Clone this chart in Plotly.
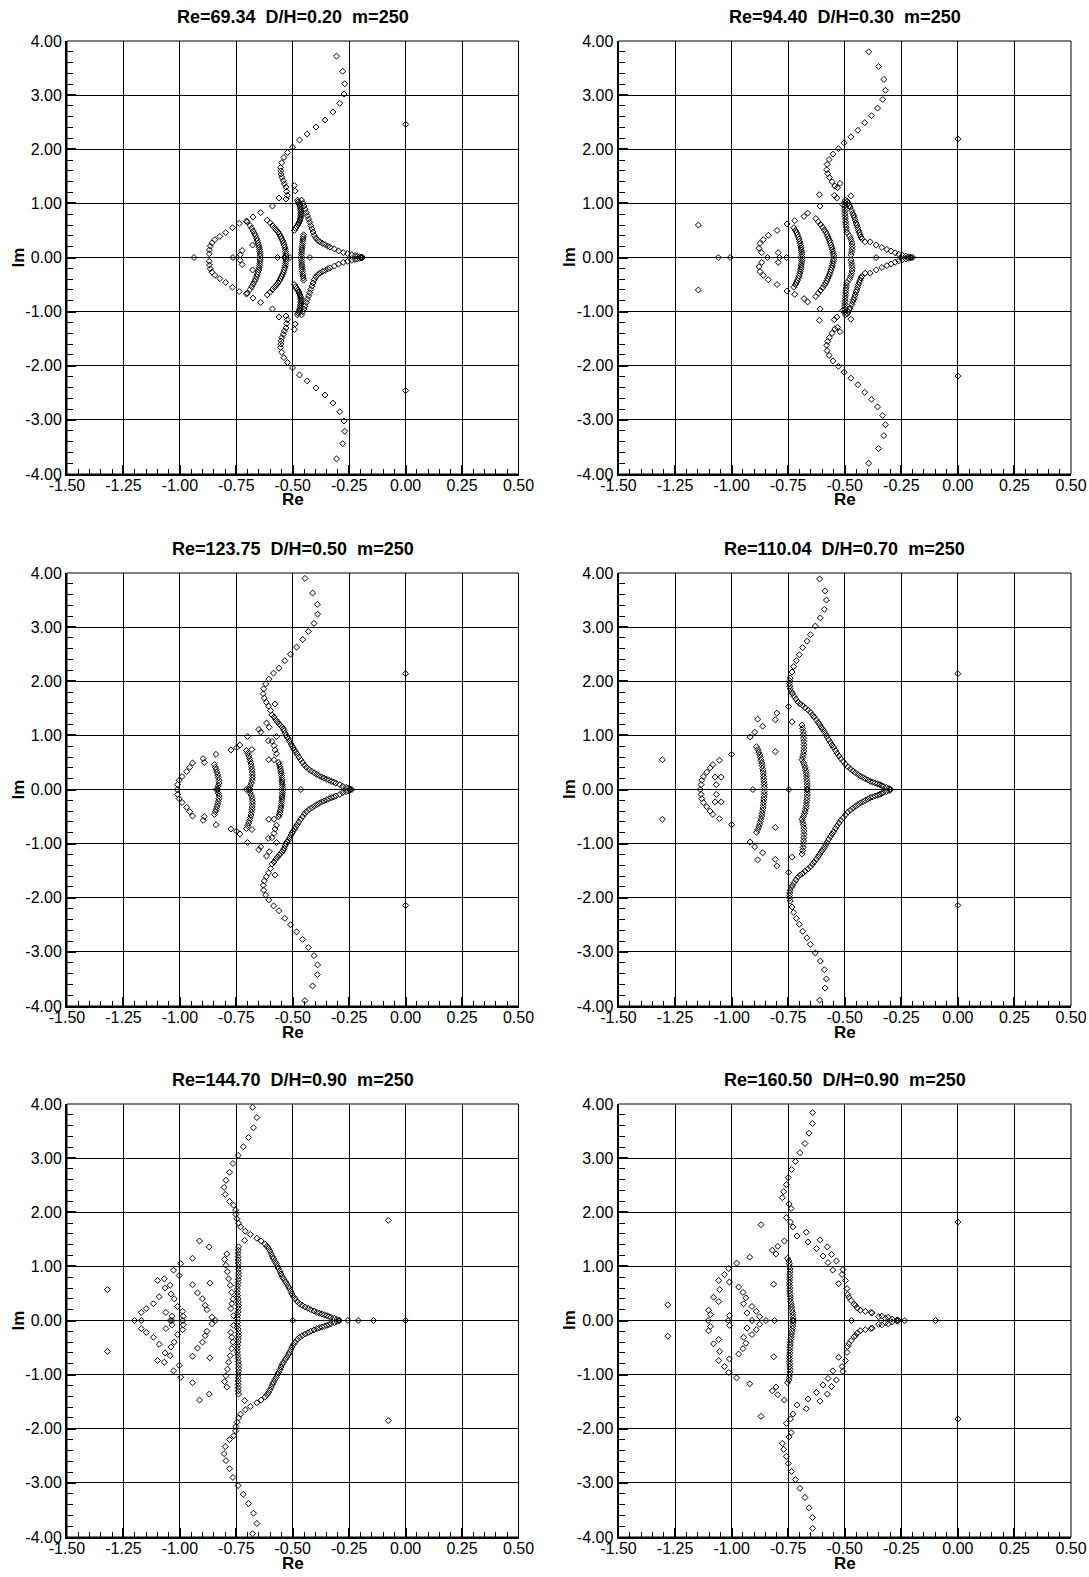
import plotly.graph_objects as go

W, H = 1089, 1577

titles = ["Re=69.34  D/H=0.20  m=250", "Re=94.40  D/H=0.30  m=250",
          "Re=123.75  D/H=0.50  m=250", "Re=110.04  D/H=0.70  m=250",
          "Re=144.70  D/H=0.90  m=250", "Re=160.50  D/H=0.90  m=250"]

x_ticks = [-1.5, -1.25, -1.0, -0.75, -0.5, -0.25, 0.0, 0.25, 0.5]
x_ticklabels = ["-1.50", "-1.25", "-1.00", "-0.75", "-0.50", "-0.25", "0.00", "0.25", "0.50"]
y_ticks = [-4, -3, -2, -1, 0, 1, 2, 3, 4]
y_ticklabels = ["-4.00", "-3.00", "-2.00", "-1.00", "0.00", "1.00", "2.00", "3.00", "4.00"]

# Eigenvalues with Im >= 0 (spectra are symmetric: conjugate pairs)
p1_re = [
    -0.306, -0.279, -0.270, -0.273, -0.292, -0.322, -0.357, -0.397, -0.436, -0.470, -0.501, -0.523,
    -0.539, -0.549, -0.554, -0.553, -0.552, -0.548, -0.542, -0.537, -0.530, -0.527, -0.524, -0.530,
    -0.493, -0.489, -0.561, -0.590,
    -0.642, -0.676, -0.706, -0.737, -0.767, -0.797, -0.823, -0.845, -0.858, -0.865, -0.869, -0.870,
    -0.9375, -0.765, -0.567, -0.537, -0.512, -0.424, -0.191,
    -0.733, -0.724, -0.678,
    -0.701, -0.689, -0.682, -0.675, -0.669, -0.665, -0.660, -0.657, -0.654, -0.651, -0.649, -0.647, -0.646, -0.645, -0.644,
    -0.613, -0.600, -0.590, -0.581, -0.573, -0.565, -0.559, -0.554, -0.549, -0.545, -0.541, -0.538, -0.535, -0.533, -0.532, -0.531, -0.530,
    -0.479, -0.476, -0.473, -0.470, -0.468, -0.466, -0.465, -0.464, -0.464, -0.464, -0.465, -0.466, -0.468, -0.471, -0.474, -0.478, -0.483, -0.488, -0.493,
    -0.452, -0.453, -0.455, -0.456, -0.457, -0.458, -0.459, -0.460, -0.461, -0.461, -0.462,
    -0.461, -0.455, -0.450, -0.445, -0.440, -0.435, -0.430, -0.425, -0.420, -0.415, -0.410, -0.405, -0.398,
    -0.390, -0.380, -0.368, -0.357, -0.345, -0.335, -0.316, -0.297, -0.276, -0.257, -0.239, -0.224, -0.214, -0.205, -0.198, -0.193,
    0.0,
]
p1_im = [
    3.72, 3.44, 3.21, 3.02, 2.85, 2.69, 2.54, 2.41, 2.28, 2.17, 2.04, 1.94,
    1.85, 1.75, 1.66, 1.60, 1.54, 1.48, 1.42, 1.36, 1.30, 1.22, 1.15, 1.08,
    1.33, 1.23, 1.10, 0.95,
    0.83, 0.75, 0.67, 0.63, 0.55, 0.46, 0.39, 0.33, 0.27, 0.21, 0.14, 0.07,
    0, 0, 0, 0, 0, 0, 0,
    0.05, 0.13, 0.23,
    0.66, 0.59, 0.54, 0.49, 0.44, 0.40, 0.35, 0.31, 0.27, 0.23, 0.19, 0.15, 0.11, 0.07, 0.03,
    0.69, 0.64, 0.59, 0.55, 0.51, 0.47, 0.43, 0.39, 0.35, 0.31, 0.27, 0.23, 0.19, 0.15, 0.11, 0.07, 0.03,
    1.06, 1.03, 1.00, 0.97, 0.94, 0.90, 0.87, 0.84, 0.81, 0.78, 0.75, 0.72, 0.69, 0.66, 0.63, 0.60, 0.57, 0.54, 0.50,
    0.42, 0.38, 0.34, 0.30, 0.26, 0.22, 0.18, 0.14, 0.10, 0.06, 0.02,
    1.06, 1.00, 0.95, 0.89, 0.83, 0.77, 0.71, 0.65, 0.59, 0.53, 0.47, 0.41, 0.36,
    0.32, 0.29, 0.26, 0.24, 0.21, 0.19, 0.16, 0.12, 0.09, 0.07, 0.05, 0.035, 0.025, 0.015, 0.008, 0.003,
    2.46,
]

p2_re = [
    -1.147, -1.059, -1.006, 0.0,
    -0.394, -0.351, -0.327, -0.320, -0.332, -0.355, -0.382, -0.412, -0.442, -0.473,
    -0.503, -0.528, -0.552, -0.569, -0.578, -0.580, -0.575, -0.568, -0.556, -0.544,
    -0.532, -0.521, -0.546, -0.535, -0.509, -0.473, -0.612, -0.609,
    -0.664, -0.680, -0.721, -0.755, -0.799, -0.838, -0.860, -0.875, -0.879, -0.867, -0.842,
    -0.794, -0.789, -0.757, -0.361,
    -0.725, -0.718, -0.713, -0.709, -0.705, -0.702, -0.699, -0.697, -0.695, -0.693, -0.692, -0.691, -0.690, -0.690,
    -0.628, -0.617, -0.607, -0.598, -0.590, -0.584, -0.579, -0.575, -0.571, -0.567, -0.564, -0.561, -0.558, -0.555, -0.553, -0.551, -0.549,
    -0.497, -0.499, -0.500, -0.500, -0.500, -0.499, -0.498, -0.497, -0.496, -0.495, -0.494, -0.492, -0.490,
    -0.479, -0.474, -0.470, -0.468, -0.467, -0.468, -0.470, -0.472,
    -0.489, -0.484, -0.480, -0.476, -0.469, -0.465, -0.461, -0.458, -0.454, -0.450, -0.447, -0.443, -0.440, -0.436, -0.432, -0.428, -0.425, -0.410,
    -0.388, -0.361, -0.336, -0.314, -0.296, -0.277, -0.261, -0.245, -0.230, -0.218, -0.208, -0.199,
]
p2_im = [
    0.60, 0, 0, 2.19,
    3.80, 3.53, 3.29, 3.09, 2.92, 2.76, 2.62, 2.49, 2.35, 2.23,
    2.12, 2.01, 1.91, 1.81, 1.72, 1.62, 1.55, 1.48, 1.40, 1.32,
    1.29, 1.37, 1.15, 1.10, 0.98, 1.14, 1.16, 0.95,
    0.82, 0.76, 0.68, 0.62, 0.50, 0.41, 0.33, 0.26, 0.17, 0.09, 0.0,
    0.09, 0, 0, 0,
    0.55, 0.50, 0.46, 0.42, 0.38, 0.34, 0.30, 0.26, 0.22, 0.18, 0.14, 0.10, 0.06, 0.02,
    0.72, 0.66, 0.61, 0.56, 0.51, 0.47, 0.43, 0.39, 0.35, 0.31, 0.27, 0.23, 0.19, 0.15, 0.11, 0.07, 0.03,
    1.06, 1.01, 0.96, 0.91, 0.86, 0.81, 0.76, 0.71, 0.66, 0.61, 0.56, 0.51, 0.46,
    0.40, 0.35, 0.30, 0.25, 0.20, 0.15, 0.10, 0.05,
    1.04, 1.00, 0.96, 0.93, 0.87, 0.82, 0.78, 0.74, 0.69, 0.64, 0.60, 0.55, 0.50, 0.46, 0.42, 0.38, 0.35, 0.29,
    0.29, 0.23, 0.185, 0.15, 0.12, 0.086, 0.06, 0.04, 0.025, 0.012, 0.006, 0,
]

p3_re = [
    -0.446, -0.412, -0.391, -0.390, -0.406, -0.431, -0.456, -0.483, -0.510, -0.535, -0.561,
    -0.585, -0.606, -0.620, -0.629, -0.631, -0.626, -0.617, -0.607, -0.598, -0.592, -0.583,
    -0.575, -0.560, -0.547, -0.538, -0.530, -0.520, -0.507, -0.498, -0.487, -0.473, -0.456, -0.439,
    -0.417, -0.394, -0.372, -0.350, -0.328, -0.309, -0.291, -0.279, -0.264, -0.254, -0.247, -0.238,
    -0.568, -0.553, -0.542, -0.534, -0.525, -0.514, -0.503, -0.492, -0.480, -0.465, -0.448, -0.428,
    -0.405, -0.383, -0.361, -0.339, -0.318,
    -0.579, -0.616, -0.604, -0.572, -0.592, -0.583, -0.578, -0.572, -0.606, -0.583, -0.608, -0.650,
    -0.642, -0.700, -0.734, -0.749, -0.774, -0.681,
    -0.562, -0.559, -0.557, -0.555, -0.553, -0.551, -0.550, -0.549, -0.548, -0.547, -0.546, -0.546, -0.545,
    -0.464, -0.706, -0.833, -1.012, -0.690,
    -0.705, -0.700, -0.695, -0.691, -0.688, -0.685, -0.683, -0.681, -0.680, -0.679, -0.679, -0.680, -0.683, -0.688, -0.692,
    -0.840, -0.897, -0.892, -0.944, -0.956, -0.970, -0.990, -1.003, -1.010,
    -0.847, -0.843, -0.840, -0.836, -0.833, -0.830, -0.827, -0.826, -0.830, -0.835,
    0.0,
]
p3_im = [
    3.90, 3.63, 3.42, 3.24, 3.07, 2.92, 2.77, 2.63, 2.50, 2.38, 2.24,
    2.15, 2.04, 1.95, 1.86, 1.77, 1.69, 1.61, 1.54, 1.46, 1.38, 1.34,
    1.29, 1.21, 1.15, 1.09, 1.00, 0.94, 0.84, 0.77, 0.69, 0.60, 0.50, 0.41,
    0.34, 0.28, 0.23, 0.19, 0.15, 0.12, 0.09, 0.06, 0.04, 0.025, 0.012, 0,
    1.25, 1.18, 1.12, 1.04, 0.97, 0.89, 0.80, 0.73, 0.65, 0.55, 0.45, 0.37,
    0.31, 0.255, 0.21, 0.17, 0.135,
    1.58, 1.23, 1.15, 0.98, 0.89, 0.81, 0.73, 0.66, 0.55, 0.55, 0.90, 1.11,
    1.06, 0.98, 0.82, 0.77, 0.73, 0.74,
    0.50, 0.46, 0.42, 0.38, 0.34, 0.30, 0.26, 0.22, 0.18, 0.14, 0.10, 0.06, 0.02,
    0, 0, 0, 0, 0,
    0.72, 0.67, 0.62, 0.57, 0.52, 0.47, 0.42, 0.37, 0.32, 0.27, 0.22, 0.17, 0.12, 0.07, 0.02,
    0.65, 0.57, 0.50, 0.49, 0.41, 0.33, 0.24, 0.17, 0.09,
    0.46, 0.41, 0.37, 0.32, 0.27, 0.22, 0.17, 0.12, 0.07, 0.02,
    2.14,
]

p4_re = [
    -1.306, 0.0,
    -0.611, -0.587, -0.581, -0.590, -0.608, -0.630, -0.652, -0.667, -0.686, -0.701,
    -0.714, -0.726, -0.733, -0.741, -0.744, -0.741, -0.731, -0.716, -0.697, -0.675,
    -0.652, -0.635, -0.618, -0.604, -0.590, -0.579, -0.564, -0.549, -0.534, -0.517,
    -0.497, -0.475, -0.453, -0.431, -0.409, -0.387, -0.365, -0.345, -0.331, -0.317,
    -0.305, -0.298,
    -0.743, -0.743, -0.737, -0.724, -0.707, -0.686, -0.663, -0.643, -0.626, -0.611,
    -0.597, -0.584, -0.571, -0.556, -0.541, -0.525, -0.507, -0.486, -0.464, -0.442,
    -0.420, -0.398, -0.376, -0.355, -0.338,
    -0.689, -0.686, -0.684, -0.683, -0.682, -0.681, -0.680, -0.680, -0.681, -0.683,
    -0.686, -0.689, -0.683, -0.678, -0.675, -0.672, -0.670, -0.669, -0.668, -0.667,
    -0.666, -0.666, -0.666,
    -0.747, -0.906, -1.139,
    -0.890, -0.884, -0.880, -0.876, -0.873, -0.870, -0.867, -0.865, -0.863, -0.861,
    -0.860, -0.859, -0.858, -0.857, -0.856, -0.856,
    -0.885, -0.863, -0.898, -0.918, -0.807, -0.800, -0.807, -0.748, -0.733, -1.000,
    -1.132, -1.125, -1.110, -1.095, -1.083, -1.054, -1.073, -1.046, -1.068, -1.135,
]
p4_im = [
    0.55, 2.14,
    3.89, 3.67, 3.50, 3.33, 3.17, 3.02, 2.86, 2.74, 2.62, 2.49,
    2.38, 2.27, 2.17, 2.06, 1.96, 1.86, 1.77, 1.67, 1.58, 1.51,
    1.43, 1.34, 1.24, 1.15, 1.07, 0.98, 0.87, 0.78, 0.67, 0.57,
    0.47, 0.38, 0.31, 0.25, 0.20, 0.15, 0.12, 0.09, 0.06, 0.04,
    0.02, 0.006,
    2.01, 1.91, 1.81, 1.72, 1.62, 1.55, 1.47, 1.38, 1.29, 1.20,
    1.11, 1.02, 0.92, 0.82, 0.72, 0.62, 0.52, 0.42, 0.345, 0.28,
    0.225, 0.175, 0.135, 0.105, 0.075,
    1.19, 1.13, 1.07, 1.01, 0.95, 0.89, 0.83, 0.77, 0.71, 0.65,
    0.60, 0.55, 0.50, 0.45, 0.40, 0.35, 0.30, 0.25, 0.20, 0.15,
    0.10, 0.05, 0.01,
    0, 0, 0,
    0.79, 0.74, 0.69, 0.64, 0.59, 0.54, 0.49, 0.44, 0.39, 0.34,
    0.29, 0.24, 0.19, 0.14, 0.09, 0.04,
    1.30, 1.17, 1.06, 0.97, 1.29, 1.41, 0.70, 1.53, 1.25, 0.65,
    0.17, 0.24, 0.32, 0.40, 0.46, 0.54, 0.23, 0.23, 0.09, 0.09,
]

p5_re = [
    -1.321, -0.077,
    0.0, -0.142, -0.210, -0.256, -0.500, -0.843, -0.987, -1.035, -1.043, -1.171, -1.201,
    -0.678, -0.659, -0.674, -0.696, -0.719, -0.742, -0.765, -0.780, -0.796, -0.804,
    -0.799, -0.780, -0.762, -0.753, -0.752, -0.747, -0.740, -0.731, -0.710, -0.688,
    -0.659, -0.640, -0.622, -0.607, -0.595, -0.585, -0.573, -0.563, -0.552, -0.541,
    -0.526, -0.514, -0.504, -0.489, -0.470, -0.445, -0.420, -0.393, -0.371, -0.349,
    -0.331, -0.316, -0.304, -0.295,
    -0.614, -0.601, -0.590, -0.579, -0.568, -0.557, -0.547, -0.533, -0.520, -0.509,
    -0.497, -0.480, -0.458, -0.432, -0.406, -0.382, -0.360, -0.340,
    -0.713,
    -0.740, -0.741, -0.742, -0.742, -0.742, -0.741, -0.741, -0.740, -0.740, -0.740,
    -0.741, -0.742, -0.744, -0.745, -0.745, -0.744, -0.742, -0.741, -0.740, -0.740,
    -0.742, -0.744, -0.745,
    -0.792, -0.802, -0.796, -0.789, -0.784, -0.777, -0.770, -0.765, -0.770, -0.774, -0.762,
    -0.944, -0.922, -0.900, -0.888, -0.858, -0.867, -0.913, -0.870, -0.944, -0.880,
    -0.996, -1.028, -1.003, -1.043, -1.065, -1.069, -1.099, -1.092, -1.117, -1.149,
    -1.171, -1.062, -1.040, -1.025, -1.010, -0.988,
    -1.035, -0.985,
]
p5_im = [
    0.57, 1.85,
    0, 0, 0, 0, 0, 0, 0, 0, 0, 0, 0,
    3.94, 3.75, 3.56, 3.38, 3.21, 3.05, 2.90, 2.74, 2.59, 2.46,
    2.33, 2.20, 2.13, 2.04, 1.96, 1.88, 1.80, 1.73, 1.65, 1.59,
    1.52, 1.47, 1.41, 1.33, 1.23, 1.14, 1.05, 0.96, 0.86, 0.77,
    0.68, 0.59, 0.49, 0.40, 0.31, 0.25, 0.20, 0.15, 0.12, 0.09,
    0.06, 0.04, 0.02, 0.006,
    1.37, 1.28, 1.18, 1.09, 1.00, 0.91, 0.81, 0.72, 0.63, 0.54,
    0.44, 0.35, 0.28, 0.225, 0.175, 0.135, 0.105, 0.075,
    1.48,
    1.36, 1.30, 1.24, 1.18, 1.12, 1.06, 1.00, 0.94, 0.88, 0.82,
    0.76, 0.70, 0.64, 0.58, 0.52, 0.46, 0.40, 0.34, 0.28, 0.22,
    0.16, 0.10, 0.04,
    1.23, 1.13, 1.02, 0.90, 0.77, 0.65, 0.52, 0.40, 0.31, 0.22, 0.09,
    0.66, 0.51, 0.40, 0.28, 0.06, 0.69, 1.47, 1.36, 1.15, 0.20,
    1.05, 0.93, 0.83, 0.65, 0.60, 0.77, 0.74, 0.44, 0.31, 0.22,
    0.15, 0.15, 0.49, 0.40, 0.26, 0.17,
    0.08, 0.08,
]

p6_re = [
    -1.282, 0.0,
    -0.099, -0.235, -0.264, -0.470, -0.811, -0.848, -0.910, -1.016, -1.104,
    -0.642, -0.643, -0.658, -0.676, -0.698, -0.718, -0.735, -0.750, -0.758, -0.770,
    -0.776, -0.746, -0.737, -0.758, -0.740, -0.729, -0.711, -0.767,
    -0.670, -0.662, -0.609, -0.625, -0.596, -0.577, -0.558, -0.574, -0.537, -0.553,
    -0.512, -0.527, -0.497, -0.490, -0.482, -0.453, -0.409, -0.379, -0.350, -0.320,
    -0.291, -0.268,
    -0.508, -0.487, -0.472, -0.459, -0.444, -0.431, -0.384, -0.336, -0.308,
    -0.753, -0.747, -0.745, -0.743, -0.742, -0.742, -0.743, -0.743, -0.744, -0.744,
    -0.744, -0.743, -0.743, -0.742, -0.741, -0.740, -0.739, -0.737, -0.735, -0.733,
    -0.731, -0.730, -0.728, -0.728,
    -0.814, -0.870, -0.920, -0.978, -0.820, -0.804, -0.796,
    -1.013, -1.032, -1.057, -1.053, -1.080, -1.102, -1.094, -1.057, -1.010, -1.009,
    -0.969, -0.950, -0.937, -0.947, -0.910, -0.891, -0.876, -0.932,
]
p6_im = [
    0.29, 1.82,
    0, 0, 0, 0, 0, 0, 0, 0, 0,
    3.84, 3.64, 3.46, 3.27, 3.10, 2.94, 2.79, 2.64, 2.51, 2.38,
    2.27, 2.15, 2.07, 1.90, 1.82, 1.73, 1.56, 1.47,
    1.63, 1.45, 1.49, 1.33, 1.19, 1.36, 1.22, 1.07, 1.10, 0.93,
    0.85, 0.68, 0.74, 0.59, 0.43, 0.28, 0.17, 0.14, 0.07, 0.04,
    0.025, 0.012,
    0.94, 0.48, 0.37, 0.30, 0.23, 0.19, 0.15, 0.08, 0.06,
    1.15, 1.10, 1.05, 1.00, 0.95, 0.90, 0.85, 0.80, 0.75, 0.70,
    0.65, 0.60, 0.55, 0.50, 0.45, 0.40, 0.35, 0.30, 0.25, 0.20,
    0.15, 0.10, 0.05, 0.01,
    0.67, 1.77, 1.17, 1.06, 1.30, 1.23, 1.37,
    0.96, 0.85, 0.74, 0.57, 0.43, 0.19, 0.11, 0.35, 0.71, 0.09,
    0.62, 0.52, 0.42, 0.31, 0.26, 0.17, 0.07, 0.14,
]

panels = [(p1_re, p1_im), (p2_re, p2_im), (p3_re, p3_im),
          (p4_re, p4_im), (p5_re, p5_im), (p6_re, p6_im)]

# layout geometry (pixels)
col_px = [(67, 518.5), (618.5, 1071)]
row_px = [(41, 474), (573, 1006), (1104, 1537)]

FONT = "Liberation Sans, Arial, Helvetica, sans-serif"
fig = go.Figure()
annotations = []
shapes = []

for k, (re_u, im_u) in enumerate(panels):
    if len(re_u) != len(im_u):
        print("length mismatch panel", k + 1, len(re_u), len(im_u))
    r, c = divmod(k, 2)
    n = "" if k == 0 else str(k + 1)
    xs = list(re_u) + [x for x, y in zip(re_u, im_u) if y != 0]
    ys = list(im_u) + [-y for y in im_u if y != 0]
    fig.add_trace(go.Scatter(
        x=xs, y=ys, mode="markers", xaxis="x" + n, yaxis="y" + n, showlegend=False,
        hoverinfo="skip",
        marker=dict(symbol="diamond-open", size=4.6, color="black",
                    line=dict(width=1, color="black"))))
    x0, x1 = col_px[c]
    yt, yb = row_px[r]
    common = dict(showline=True, linewidth=2, linecolor="black", mirror=False,
                  showgrid=True, gridcolor="black", gridwidth=1, zeroline=False,
                  ticks="inside", ticklen=9, tickwidth=2, tickcolor="black",
                  tickfont=dict(family=FONT, size=16, color="black"),
                  tickmode="array", fixedrange=True, automargin=False)
    fig.layout["xaxis" + n] = dict(
        common, domain=[x0 / W, x1 / W], anchor="y" + n, range=[-1.5, 0.5],
        tickvals=x_ticks, ticktext=x_ticklabels, ticklabelstandoff=-4,
        minor=dict(tickmode="linear", tick0=0, dtick=0.05, ticks="inside", ticklen=5,
                   tickwidth=1, tickcolor="black", showgrid=False))
    fig.layout["yaxis" + n] = dict(
        common, domain=[1 - yb / H, 1 - yt / H], anchor="x" + n, range=[-4, 4],
        tickvals=y_ticks, ticktext=y_ticklabels,
        minor=dict(tickmode="linear", tick0=0, dtick=0.2, ticks="inside", ticklen=6,
                   tickwidth=1, tickcolor="black", showgrid=False))
    shapes.append(dict(type="rect", xref="x" + n + " domain", yref="y" + n + " domain",
                       x0=0, x1=1, y0=0, y1=1, line=dict(color="black", width=1),
                       layer="below"))
    cx = (x0 + x1) / 2
    annotations.append(dict(
        text="<b>" + titles[k].replace("  ", " \u00a0") + "</b>", x=cx / W, y=1 - (yt - 24) / H,
        xref="paper", yref="paper", showarrow=False, xanchor="center", yanchor="middle",
        font=dict(family=FONT, size=18, color="black")))
    annotations.append(dict(
        text="<b>Re</b>", x=cx / W, y=1 - (yb + 26) / H, xref="paper", yref="paper",
        showarrow=False, xanchor="center", yanchor="middle",
        font=dict(family=FONT, size=17, color="black")))
    annotations.append(dict(
        text="<b>Im</b>", x=(x0 - 49) / W, y=1 - ((yt + yb) / 2) / H, xref="paper", yref="paper",
        showarrow=False, xanchor="center", yanchor="middle", textangle=-90,
        font=dict(family=FONT, size=17, color="black")))

fig.update_layout(width=W, height=H, autosize=False,
                  margin=dict(l=0, r=0, t=0, b=0, autoexpand=False),
                  paper_bgcolor="white", plot_bgcolor="white",
                  annotations=annotations, shapes=shapes)

fig.write_html("out.html", config={"displayModeBar": False},
               post_script="document.body.style.margin='0px';document.body.style.overflow='hidden';")
